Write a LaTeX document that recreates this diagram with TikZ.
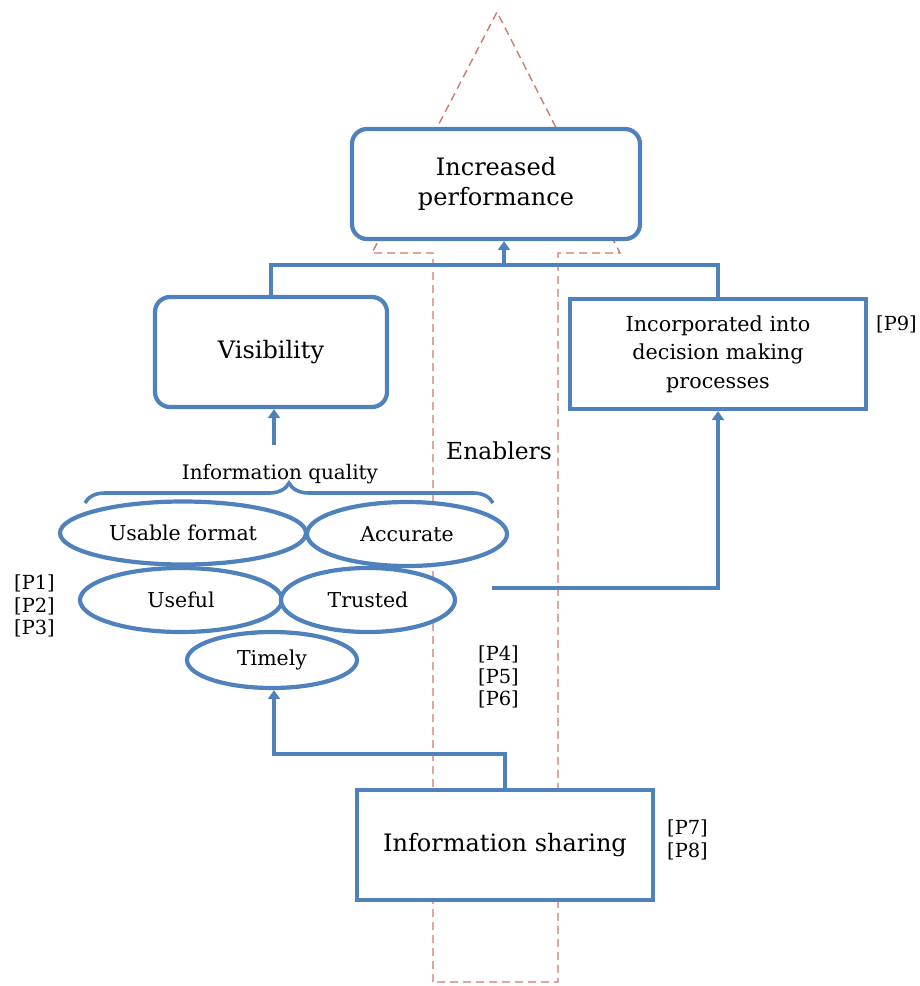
\documentclass[tikz,border=0pt]{standalone}
\usepackage{fontspec}
\setmainfont{DejaVu Serif}
\usetikzlibrary{shapes.geometric,arrows.meta,decorations.pathreplacing}
\definecolor{bl}{RGB}{79,129,189}
\definecolor{enb}{RGB}{205,120,115}
\begin{document}
\begin{tikzpicture}[x=1pt,y=-1pt,
  link/.style={draw=bl,line width=4.2pt},
  arr/.style={link,-{Triangle[width=12pt,length=9pt]}},
  rbox/.style={draw=bl,line width=4.2pt,fill=white,rounded corners=15pt,align=center,inner sep=0pt},
  sbox/.style={draw=bl,line width=4.2pt,fill=white,align=center,inner sep=0pt},
  oval/.style={ellipse,draw=bl,line width=4.2pt,fill=white,inner sep=0pt,font=\fontsize{20.5}{24}\selectfont},
  big/.style={font=\fontsize{24}{30}\selectfont},
  mid/.style={font=\fontsize{20.7}{28.5}\selectfont},
  tag/.style={font=\fontsize{19.4}{22.5}\selectfont,align=left,inner sep=0pt}]
\useasboundingbox (0,0) rectangle (920,986);

% enablers arrow (dashed outline)
\draw[enb,line width=1.4pt,dash pattern=on 8pt off 5pt]
  (433,982) -- (433,253) -- (372,253) -- (497,12) -- (620,253)
  -- (558,253) -- (558,982) -- cycle;

% boxes
\node[rbox,big,minimum width=288pt,minimum height=110pt] (perf) at (496,184)
  {\raisebox{-5pt}{\begin{tabular}{@{}c@{}}Increased\\performance\end{tabular}}};
\node[rbox,big,minimum width=232pt,minimum height=110pt] (vis) at (271,352) {Visibility};
\node[sbox,mid,minimum width=296pt,minimum height=110pt] (dec) at (718,354) {Incorporated into\\decision making\\processes};
\node[sbox,big,minimum width=296pt,minimum height=110pt] (share) at (505,845) {Information sharing};

% information quality ellipses
\node[oval,minimum width=246pt,minimum height=63pt] (usable) at (183,533) {Usable format};
\node[oval,minimum width=200pt,minimum height=64pt] (acc) at (407,534) {Accurate};
\node[oval,minimum width=202pt,minimum height=64pt] (useful) at (181,600) {Useful};
\node[oval,minimum width=174pt,minimum height=64pt] (trust) at (368,600) {Trusted};
\node[oval,minimum width=170pt,minimum height=56pt] (timely) at (272,660) {Timely};

\draw[link,line width=3.6pt,decorate,decoration={brace,amplitude=20pt}] (85,503) -- (493,503);
\node[font=\fontsize{20}{24}\selectfont] (iq) at (280,474) {Information quality};

% labels
\node[font=\fontsize{23.4}{28}\selectfont] (enab) at (499,451) {Enablers};
\node[tag,anchor=north west] (p13) at (14,575) {{[P1]}\\{[P2]}\\{[P3]}};
\node[tag,anchor=north west] (p46) at (478,646) {{[P4]}\\{[P5]}\\{[P6]}};
\node[tag,anchor=north west] (p78) at (667,820) {{[P7]}\\{[P8]}};
\node[tag,anchor=north west] (p9) at (876,316) {[P9]};

% connectors
\coordinate (bar) at (504,265);
\coordinate (iqtop) at (274,445);
\coordinate (trout) at (492,588);
\coordinate (bend) at (274,754);
\draw[link] (vis.north) -- (vis.north |- bar) -- (bar -| dec.north) -- (dec.north);
\draw[arr] (bar) -- (perf.south -| bar);
\draw[arr] (iqtop) -- (vis.south -| iqtop);
\draw[arr] (trout) -| (dec.south);
\draw[arr] (share.north) |- (bend) -- (timely.south -| bend);
\end{tikzpicture}
\end{document}
